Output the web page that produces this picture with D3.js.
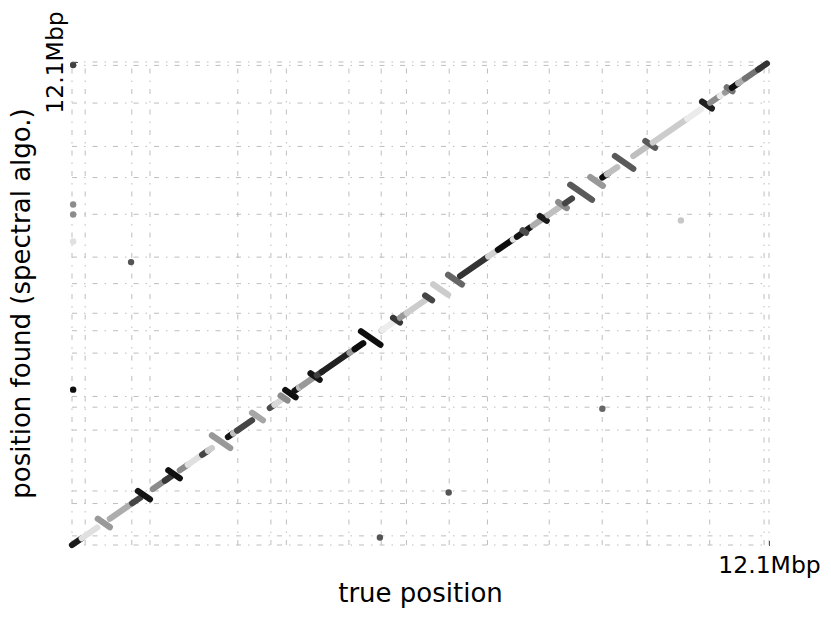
<!DOCTYPE html>
<html>
<head>
<meta charset="utf-8">
<script src="https://cdn.jsdelivr.net/npm/d3@7"></script>
<style>
  body { margin: 0; background: #fff; }
  svg { display: block; font-family: "DejaVu Sans", sans-serif; }
</style>
</head>
<body>
<svg></svg>
<script>
//Dimensions
var w = 831;
var h = 619;

//Chromosome sizes in Mbp, in genome order (these give the grid lines on both axes)
var chromNames = ["I", "II", "III", "IV", "V", "VI", "VII", "VIII", "IX", "X", "XI", "XII", "XIII", "XIV", "XV", "XVI", "Mito"];
var chromLengths = [0.230, 0.813, 0.317, 1.532, 0.577, 0.270, 1.091, 0.563, 0.440, 0.746, 0.667, 1.078, 0.924, 0.784, 1.091, 0.948, 0.086];

//Contig pieces: [true start, true end, found start, found end, gray level (0 black .. 1 white)]
var segments = [
    [0.00, 0.17, 0.00, 0.17, 0.10],
    [0.17, 0.44, 0.17, 0.44, 0.88],
    [0.45, 0.66, 0.66, 0.45, 0.60],
    [0.66, 1.05, 0.66, 1.05, 0.68],
    [1.05, 1.19, 1.05, 1.19, 0.27],
    [1.15, 1.36, 1.36, 1.15, 0.08],
    [1.41, 1.66, 1.41, 1.66, 0.55],
    [1.62, 1.74, 1.62, 1.74, 0.22],
    [1.68, 1.88, 1.88, 1.68, 0.06],
    [1.88, 2.02, 1.88, 2.02, 0.55],
    [2.02, 2.28, 2.02, 2.28, 0.88],
    [2.27, 2.37, 2.27, 2.37, 0.27],
    [2.37, 2.44, 2.37, 2.44, 0.80],
    [2.44, 2.76, 2.76, 2.44, 0.60],
    [2.72, 2.81, 2.72, 2.81, 0.08],
    [2.81, 2.88, 2.81, 2.88, 0.75],
    [2.88, 3.14, 2.88, 3.14, 0.27],
    [3.14, 3.33, 3.33, 3.14, 0.65],
    [3.45, 3.53, 3.45, 3.53, 0.30],
    [3.53, 3.65, 3.53, 3.65, 0.85],
    [3.64, 3.76, 3.76, 3.64, 0.55],
    [3.72, 3.90, 3.90, 3.72, 0.06],
    [3.88, 3.97, 3.88, 3.97, 0.08],
    [3.96, 4.06, 3.96, 4.06, 0.75],
    [4.01, 4.20, 4.01, 4.20, 0.60],
    [4.16, 4.32, 4.32, 4.16, 0.08],
    [4.27, 4.36, 4.27, 4.36, 0.25],
    [4.36, 4.85, 4.36, 4.85, 0.13],
    [4.84, 4.95, 4.84, 4.95, 0.60],
    [4.93, 5.08, 4.93, 5.08, 0.05],
    [5.04, 5.38, 5.38, 5.04, 0.06],
    [5.40, 5.42, 5.40, 5.42, 0.70],
    [5.41, 5.60, 5.41, 5.60, 0.93],
    [5.60, 5.72, 5.72, 5.60, 0.22],
    [5.72, 5.84, 5.72, 5.84, 0.60],
    [5.84, 6.16, 5.84, 6.16, 0.80],
    [6.16, 6.28, 6.28, 6.16, 0.27],
    [6.30, 6.56, 6.56, 6.30, 0.80],
    [6.56, 6.80, 6.80, 6.56, 0.40],
    [6.77, 7.24, 6.77, 7.24, 0.20],
    [7.26, 7.47, 7.26, 7.47, 0.82],
    [7.43, 7.69, 7.43, 7.69, 0.05],
    [7.69, 7.76, 7.69, 7.76, 0.88],
    [7.76, 7.99, 7.76, 7.99, 0.08],
    [7.86, 7.92, 7.92, 7.86, 0.30],
    [8.04, 8.29, 8.04, 8.29, 0.68],
    [8.16, 8.28, 8.28, 8.16, 0.10],
    [8.30, 8.51, 8.30, 8.51, 0.75],
    [8.48, 8.63, 8.63, 8.48, 0.55],
    [8.60, 8.72, 8.60, 8.72, 0.27],
    [8.69, 9.07, 9.07, 8.69, 0.35],
    [9.04, 9.26, 9.26, 9.04, 0.60],
    [9.25, 9.35, 9.25, 9.35, 0.05],
    [9.33, 9.51, 9.33, 9.51, 0.75],
    [9.47, 9.79, 9.79, 9.47, 0.35],
    [9.79, 10.03, 9.79, 10.03, 0.75],
    [10.00, 10.17, 10.17, 10.00, 0.35],
    [10.13, 10.73, 10.13, 10.73, 0.80],
    [10.73, 10.97, 10.73, 10.97, 0.92],
    [10.99, 11.16, 11.16, 10.99, 0.12],
    [11.13, 11.30, 11.13, 11.30, 0.55],
    [11.30, 11.39, 11.30, 11.39, 0.92],
    [11.39, 11.51, 11.39, 11.51, 0.60],
    [11.42, 11.52, 11.52, 11.42, 0.45],
    [11.51, 11.62, 11.51, 11.62, 0.05],
    [11.62, 11.74, 11.62, 11.74, 0.68],
    [11.74, 12.00, 11.74, 12.00, 0.45],
    [11.97, 12.12, 11.97, 12.12, 0.20]
];

//Single misplaced reads: [true position, found position, gray level]
var outliers = [
    [1.03, 7.12, 0.33],
    [0.02, 8.57, 0.55],
    [0.02, 8.32, 0.55],
    [0.02, 7.64, 0.88],
    [0.02, 3.91, 0.05],
    [0.02, 12.08, 0.25],
    [5.37, 0.19, 0.33],
    [6.57, 1.32, 0.33],
    [9.25, 3.43, 0.40],
    [10.62, 8.17, 0.78]
];

var tickText = "12.1Mbp";

var genomeLength = d3.sum(chromLengths);
var boundaries = [0].concat(Array.from(d3.cumsum(chromLengths)));

var x = d3.scaleLinear().domain([0, genomeLength]).range([72, 769]);
var y = d3.scaleLinear().domain([0, genomeLength]).range([545, 62]);
var gray = d3.scaleLinear().domain([0, 1]).range(["#000000", "#ffffff"]);

var svg = d3.select("svg")
    .attr("width", w)
    .attr("height", h);

//Grid at every chromosome boundary, dash-dot like matplotlib
var grid = svg.append("g")
    .attr("stroke", "#bdbdbd")
    .attr("stroke-width", 1)
    .attr("stroke-dasharray", "5,7,1.5,7")
    .attr("fill", "none");

grid.selectAll(".vline").data(boundaries).enter()
    .append("line")
    .attr("class", "vline")
    .attr("x1", function (d) { return x(d); })
    .attr("x2", function (d) { return x(d); })
    .attr("y1", y(0))
    .attr("y2", y(genomeLength));

grid.selectAll(".hline").data(boundaries).enter()
    .append("line")
    .attr("class", "hline")
    .attr("y1", function (d) { return y(d); })
    .attr("y2", function (d) { return y(d); })
    .attr("x1", x(0))
    .attr("x2", x(genomeLength));

//Contig pieces as thick round-capped strokes
svg.append("g").selectAll("line").data(segments).enter()
    .append("line")
    .attr("x1", function (d) { return x(d[0]); })
    .attr("x2", function (d) { return x(d[1]); })
    .attr("y1", function (d) { return y(d[2]); })
    .attr("y2", function (d) { return y(d[3]); })
    .attr("stroke", function (d) { return gray(d[4]); })
    .attr("stroke-width", 6.2)
    .attr("stroke-linecap", "round");

svg.append("g").selectAll("circle").data(outliers).enter()
    .append("circle")
    .attr("cx", function (d) { return x(d[0]); })
    .attr("cy", function (d) { return y(d[1]); })
    .attr("r", 3.2)
    .attr("fill", function (d) { return gray(d[2]); });

//Axes: only one tick each, at the genome end
var xAxis = d3.axisBottom(x)
    .tickValues([genomeLength])
    .tickFormat(function () { return tickText; })
    .tickSize(-5)
    .tickPadding(10);

svg.append("g")
    .attr("transform", "translate(0,546)")
    .call(xAxis)
    .call(function (g) { g.select(".domain").remove(); })
    .call(function (g) {
        g.selectAll("text").attr("font-size", 23.5).attr("fill", "#000").attr("font-family", "DejaVu Sans");
        g.selectAll("line").attr("stroke", "#555");
    });

var yAxis = d3.axisLeft(y)
    .tickValues([genomeLength])
    .tickFormat(function () { return tickText; })
    .tickSize(-6);

svg.append("g")
    .attr("transform", "translate(72,0)")
    .call(yAxis)
    .call(function (g) { g.select(".domain").remove(); })
    .call(function (g) {
        g.selectAll("line").attr("stroke", "#555");
        g.selectAll("text")
            .attr("font-size", 23.5)
            .attr("fill", "#000")
            .attr("font-family", "DejaVu Sans")
            .attr("text-anchor", "middle")
            .attr("x", 0)
            .attr("y", -9)
            .attr("dy", null)
            .attr("transform", "rotate(-90)");
    });

//Axis titles
svg.append("text")
    .attr("x", (x(0) + x(genomeLength)) / 2)
    .attr("y", 602)
    .attr("text-anchor", "middle")
    .attr("font-size", 26)
    .text("true position");

svg.append("text")
    .attr("transform", "translate(30," + ((y(0) + y(genomeLength)) / 2) + ")rotate(-90)")
    .attr("text-anchor", "middle")
    .attr("font-size", 26)
    .text("position found (spectral algo.)");
</script>
</body>
</html>
